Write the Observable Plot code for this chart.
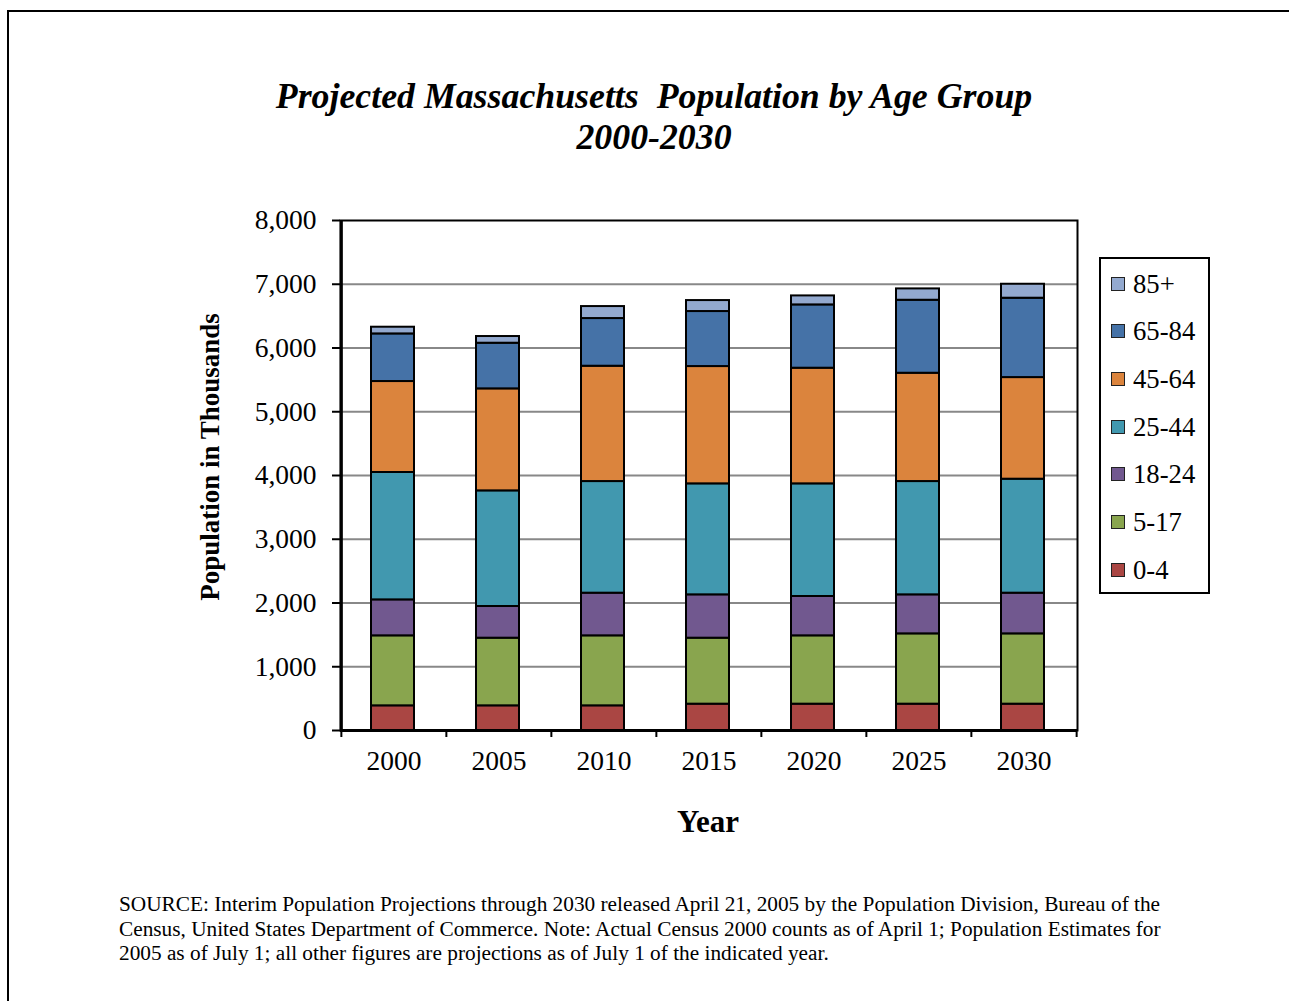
<!DOCTYPE html>
<html>
<head>
<meta charset="utf-8">
<script src="https://cdn.jsdelivr.net/npm/d3@7"></script>
<script src="https://cdn.jsdelivr.net/npm/@observablehq/plot@0.6"></script>
<style>
  html, body { margin: 0; padding: 0; background: #fff; }
  body { width: 1289px; height: 1001px; position: relative; overflow: hidden; font-family: "Liberation Serif", "Times New Roman", serif; color: #000; }
  .abs { position: absolute; }
  #frame { left: 7px; top: 10px; width: 1300px; height: 1000px; border-left: 2px solid #000; border-top: 2px solid #000; }
  #title { left: 0; width: 1308px; top: 76px; text-align: center; font-weight: bold; font-style: italic; font-size: 35.8px; line-height: 41px; white-space: pre; }
  #ylabel { left: 210px; top: 457px; transform: translate(-50%, -50%) rotate(-90deg); font-weight: bold; font-size: 27px; white-space: nowrap; }
  #xlabel { left: 708px; top: 804px; transform: translateX(-50%); font-weight: bold; font-size: 31px; }
  #caption { left: 119px; top: 892px; font-size: 21.3px; line-height: 24.5px; white-space: pre; }
  #legend { left: 1099px; top: 257px; width: 107px; height: 333px; border: 2px solid #000; }
  .item { position: absolute; left: 10px; height: 30px; display: flex; align-items: center; font-size: 26.7px; }
  .sw { width: 12px; height: 12px; border: 1.5px solid #222; margin-right: 8px; }
  #chart { left: 0; top: 0; }
</style>
</head>
<body>
<div id="frame" class="abs"></div>
<div id="title" class="abs">Projected Massachusetts  Population by Age Group
2000-2030</div>
<div id="chart" class="abs"></div>
<div id="ylabel" class="abs">Population in Thousands</div>
<div id="xlabel" class="abs">Year</div>
<div id="legend" class="abs"></div>
<div id="caption" class="abs">SOURCE: Interim Population Projections through 2030 released April 21, 2005 by the Population Division, Bureau of the
Census, United States Department of Commerce. Note: Actual Census 2000 counts as of April 1; Population Estimates for
2005 as of July 1; all other figures are projections as of July 1 of the indicated year.</div>
<script>
// ---- data (thousands) ----
const years = ["2000", "2005", "2010", "2015", "2020", "2025", "2030"];
const groups = ["0-4", "5-17", "18-24", "25-44", "45-64", "65-84", "85+"];
const colors = ["#AA4643", "#89A54E", "#71588F", "#4198AF", "#DB843D", "#4572A7", "#93A9CF"];
const age0to4   = [387, 387, 387, 413, 413, 413, 413];
const age5to17  = [1098, 1061, 1098, 1035, 1072, 1103, 1103];
const age18to24 = [564, 497, 669, 680, 617, 612, 638];
const age25to44 = [1998, 1814, 1751, 1741, 1767, 1777, 1788];
const age45to64 = [1427, 1600, 1809, 1840, 1814, 1699, 1594];
const age65to84 = [747, 716, 748, 863, 993, 1145, 1245];
const age85plus = [105, 105, 188, 172, 141, 178, 219];
const yTicks = [0, 1000, 2000, 3000, 4000, 5000, 6000, 7000, 8000];

const series = [age0to4, age5to17, age18to24, age25to44, age45to64, age65to84, age85plus];
const data = years.flatMap((yr, i) => groups.map((g, j) => ({year: yr, group: g, value: series[j][i]})));

const W = 1289, H = 1001;
const mL = 340, mR = W - 1077, mT = 220, mB = H - 730;
const step = (W - mL - mR) / years.length;

const chart = Plot.plot({
  width: W, height: H,
  marginLeft: mL, marginRight: mR, marginTop: mT, marginBottom: mB,
  style: {fontFamily: "Liberation Serif, Times New Roman, serif", color: "#000", background: "transparent"},
  x: {domain: years, paddingInner: 0.59, paddingOuter: 0.295, label: null},
  y: {domain: [0, 8000], label: null},
  color: {domain: groups, range: colors},
  marks: [
    Plot.gridY(yTicks.filter(t => t > 0 && t < 8000), {stroke: "#888", strokeOpacity: 1, strokeWidth: 2}),
    Plot.barY(data, {x: "year", y: "value", fill: "group", stroke: "#000", strokeWidth: 2, inset: 0, dx: -1}),
    Plot.frame({stroke: "#000", strokeWidth: 2}),
    Plot.ruleX([years[0]], {stroke: "#000", strokeWidth: 3, dx: -step / 2}),
    Plot.ruleY([0], {stroke: "#000", strokeWidth: 3}),
    Plot.axisY(yTicks, {tickFormat: d3.format(","), fontSize: 27.5, tickSize: 8, tickPadding: 16, stroke: "#000", strokeWidth: 2}),
    Plot.axisX({tickSize: 0, tickPadding: 20, fontSize: 27.5}),
    Plot.ruleX(years, {y1: 0, y2: -110, dx: -step / 2, stroke: "#000", strokeWidth: 2}),
    Plot.ruleX([years[years.length - 1]], {y1: 0, y2: -110, dx: step / 2, stroke: "#000", strokeWidth: 2})
  ]
});
document.getElementById("chart").appendChild(chart);

// legend (top = last group)
const legend = document.getElementById("legend");
const tops = [10, 57, 105, 153, 200, 248, 296];
groups.slice().reverse().forEach((g, k) => {
  const idx = groups.indexOf(g);
  const it = document.createElement("div");
  it.className = "item";
  it.style.top = tops[k] + "px";
  const sw = document.createElement("div");
  sw.className = "sw";
  sw.style.background = colors[idx];
  const lab = document.createElement("span");
  lab.textContent = g;
  it.appendChild(sw); it.appendChild(lab);
  legend.appendChild(it);
});
</script>
</body>
</html>
